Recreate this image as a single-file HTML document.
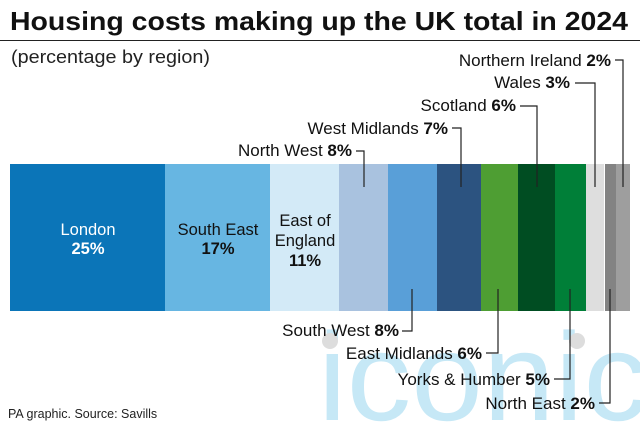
<!DOCTYPE html>
<html><head><meta charset="utf-8"><style>
html,body{margin:0;background:#fff;width:640px;height:428px;overflow:hidden;}
svg{display:block;font-family:"Liberation Sans",sans-serif;}
</style></head><body>
<svg width="640" height="428" viewBox="0 0 640 428" overflow="hidden">
<text x="318" y="420" font-size="125" fill="#c6e8f6" font-family="Liberation Sans" textLength="330" lengthAdjust="spacingAndGlyphs">iconic</text>
<circle cx="330" cy="341" r="8" fill="#ddd"/><circle cx="577" cy="341" r="8" fill="#ddd"/>
<text x="10" y="30" font-size="26" font-weight="bold" fill="#111" textLength="618" lengthAdjust="spacingAndGlyphs">Housing costs making up the UK total in 2024</text>
<line x1="0" y1="40.5" x2="640" y2="40.5" stroke="#222" stroke-width="1"/>
<text x="11" y="63" font-size="18" fill="#222" textLength="199" lengthAdjust="spacingAndGlyphs">(percentage by region)</text>
<g>
<rect x="10" y="164" width="155" height="147" fill="#0b75b8"/>
<rect x="165" y="164" width="105" height="147" fill="#67b6e2"/>
<rect x="270" y="164" width="69" height="147" fill="#d3eaf7"/>
<rect x="339" y="164" width="49" height="147" fill="#a9c2df"/>
<rect x="388" y="164" width="49" height="147" fill="#599fd8"/>
<rect x="437" y="164" width="44" height="147" fill="#2c5380"/>
<rect x="481" y="164" width="37" height="147" fill="#4e9e33"/>
<rect x="518" y="164" width="37" height="147" fill="#004d22"/>
<rect x="555" y="164" width="31" height="147" fill="#007f38"/>
<rect x="586" y="164" width="18" height="147" fill="#dedede"/>
<rect x="605" y="164" width="11" height="147" fill="#838383"/>
<rect x="616" y="164" width="14" height="147" fill="#9e9e9e"/>
</g>
<g font-size="16.5" fill="#fff" text-anchor="middle">
<text x="88" y="235">London</text><text x="88" y="254" font-weight="bold">25%</text>
</g>
<g font-size="16.5" fill="#111" text-anchor="middle">
<text x="218" y="235">South East</text><text x="218" y="254" font-weight="bold">17%</text>
<text x="305" y="226">East of</text><text x="305" y="246">England</text><text x="305" y="266" font-weight="bold">11%</text>
</g>
<g font-size="17" fill="#111" text-anchor="end">
<text x="352" y="156">North West <tspan font-weight="bold">8%</tspan></text>
<text x="448" y="134">West Midlands <tspan font-weight="bold">7%</tspan></text>
<text x="516" y="111">Scotland <tspan font-weight="bold">6%</tspan></text>
<text x="570" y="88">Wales <tspan font-weight="bold">3%</tspan></text>
<text x="611" y="66">Northern Ireland <tspan font-weight="bold">2%</tspan></text>
<text x="399" y="336">South West <tspan font-weight="bold">8%</tspan></text>
<text x="482" y="359">East Midlands <tspan font-weight="bold">6%</tspan></text>
<text x="550" y="385">Yorks &amp; Humber <tspan font-weight="bold">5%</tspan></text>
<text x="595" y="409">North East <tspan font-weight="bold">2%</tspan></text>
</g>
<g stroke="#222" stroke-width="1.2" fill="none">
<polyline points="356,151 364,151 364,187"/>
<polyline points="452,128 461,128 461,187"/>
<polyline points="520,106 537,106 537,187"/>
<polyline points="575,83 595,83 595,187"/>
<polyline points="615,60 623,60 623,187"/>
<polyline points="402,331 412,331 412,289"/>
<polyline points="486,353 498,353 498,289"/>
<polyline points="554,379 570,379 570,289"/>
<polyline points="599,403 610,403 610,289"/>
</g>
<text x="8" y="418" font-size="12.5" fill="#222">PA graphic. Source: Savills</text>
</svg>
</body></html>
